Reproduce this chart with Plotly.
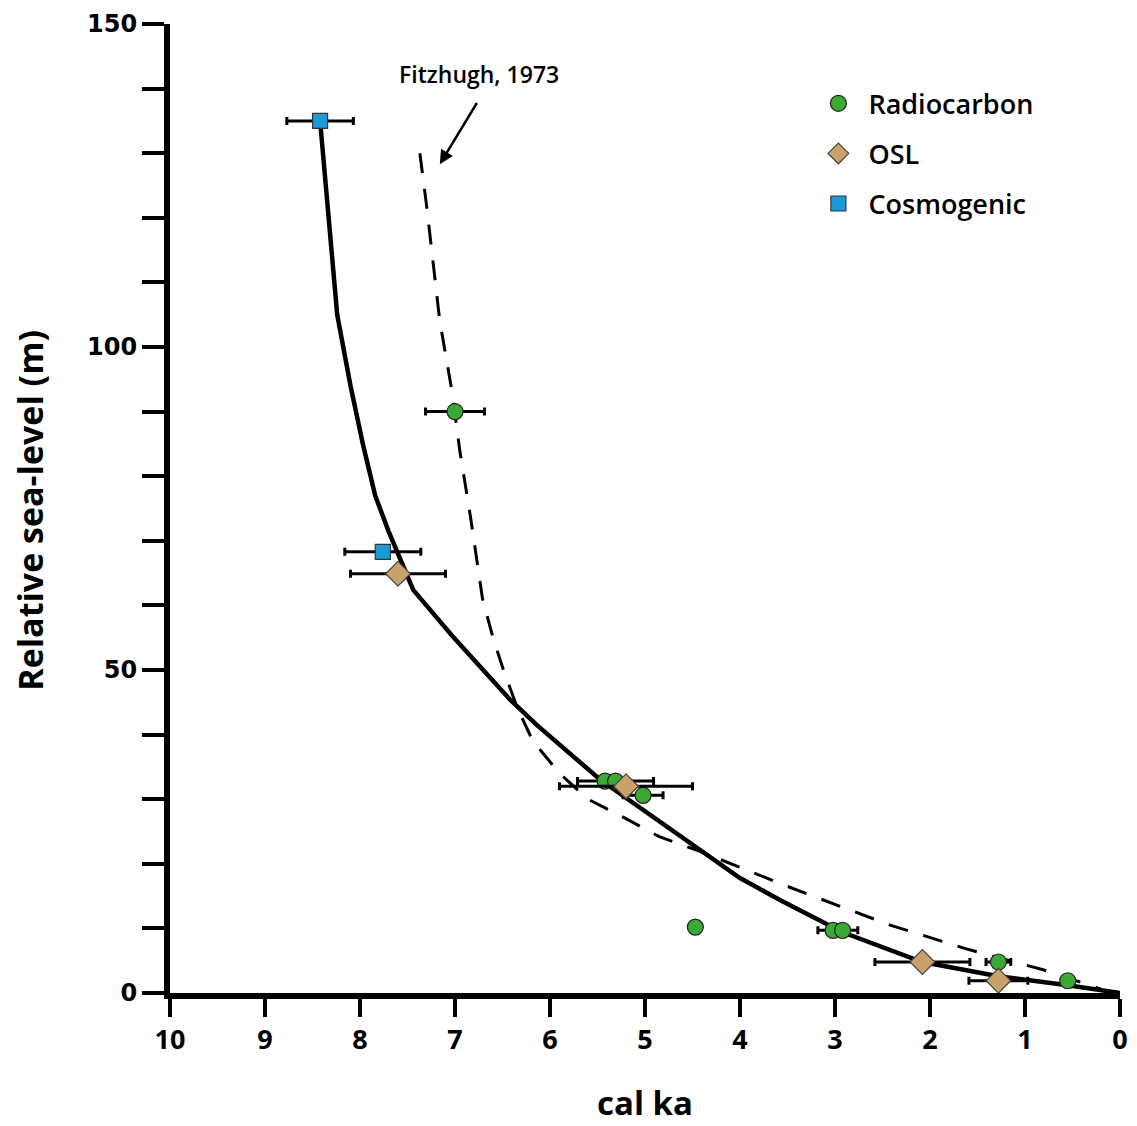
import plotly.graph_objects as go

# Radiocarbon samples (age cal ka, relative sea level m, age error)
rc_age = [7.0, 5.42, 5.31, 5.02, 4.47, 3.02, 2.92, 1.28, 0.55]
rc_rsl = [90, 32.8, 32.8, 30.6, 10.2, 9.7, 9.7, 4.8, 1.9]
rc_err = [0.31, 0, 0.4, 0.21, 0, 0.16, 0.16, 0.13, 0]

# OSL samples
osl_age = [7.6, 5.2, 2.08, 1.28]
osl_rsl = [64.9, 32.0, 4.8, 1.9]
osl_err = [0.5, 0.7, 0.5, 0.31]

# Cosmogenic samples
cos_age = [8.42, 7.76]
cos_rsl = [135, 68.3]
cos_err = [0.35, 0.4]

# sea-level curve (this study)
curve_age = [8.42, 8.32, 8.24, 8.1, 7.97, 7.84, 7.7, 7.44, 7.03, 6.42, 6.14, 5.47,
             4.6, 4.0, 3.58, 2.92, 2.08, 1.28, 0.55, 0.07, 0.0]
curve_rsl = [135, 118, 105, 94, 85, 77, 71.5, 62.4, 55.3, 45.4, 41.5, 33,
             24, 17.8, 14.4, 9.4, 4.8, 2.6, 1.2, 0.3, 0]

# Fitzhugh, 1973 curve
fitz_age = [7.37, 7.3, 7.16, 7.03, 6.95, 6.84, 6.71, 6.6, 6.49, 6.34, 6.18, 5.9,
            5.6, 5.2, 4.85, 4.4, 3.5, 2.42, 1.61, 0.81, 0.4, 0.2]
fitz_rsl = [130, 122, 104, 93, 84, 74, 61, 55, 50, 44, 39, 34,
            30, 27, 24.2, 21.8, 16.5, 10.5, 6.8, 3.6, 1.6, 0.6]

FONT = "Open Sans"

fig = go.Figure()

fig.add_trace(go.Scatter(x=fitz_age, y=fitz_rsl, mode="lines", showlegend=False,
                         line=dict(color="black", width=3, dash="20px,16px")))
fig.add_trace(go.Scatter(x=curve_age, y=curve_rsl, mode="lines", showlegend=False,
                         line=dict(color="black", width=4.5)))


def err(a):
    return dict(type="data", array=a, color="black", thickness=3, width=4)


fig.add_trace(go.Scatter(x=rc_age, y=rc_rsl, mode="markers", name="Radiocarbon",
                         legendgroup="a", error_x=err(rc_err),
                         marker=dict(symbol="circle", size=16, color="#3aaa35",
                                     line=dict(color="#222", width=1.2))))
fig.add_trace(go.Scatter(x=osl_age, y=osl_rsl, mode="markers", name="OSL",
                         legendgroup="b", error_x=err(osl_err),
                         marker=dict(symbol="diamond", size=19, color="#c9a16a",
                                     line=dict(color="#444", width=1.2))))
fig.add_trace(go.Scatter(x=cos_age, y=cos_rsl, mode="markers", name="Cosmogenic",
                         legendgroup="c", error_x=err(cos_err),
                         marker=dict(symbol="square", size=15, color="#1a9ad6",
                                     line=dict(color="#333", width=1.2))))

fig.add_annotation(x=6.75, y=142.3, text="Fitzhugh, 1973", showarrow=False,
                   font=dict(family=FONT, size=23, color="black", weight=600))
fig.add_annotation(x=7.16, y=128.3, ax=6.76, ay=138.0, axref="x", ayref="y",
                   text="", showarrow=True, arrowhead=2, arrowsize=1.1,
                   arrowwidth=2.5, arrowcolor="black")

# axis titles as annotations for exact placement
fig.add_annotation(xref="paper", yref="paper", x=0.5, y=-0.113, text="cal ka",
                   showarrow=False, xanchor="center", yanchor="middle",
                   font=dict(family=FONT, size=33, color="black", weight=700))
fig.add_annotation(xref="paper", yref="paper", x=-0.147, y=0.498,
                   text="Relative sea-level (m)", textangle=-90, showarrow=False,
                   xanchor="center", yanchor="middle",
                   font=dict(family=FONT, size=34, color="black", weight=700))

ytext = [str(v) if v % 50 == 0 else "" for v in range(0, 151, 10)]

fig.update_xaxes(range=[10, 0], tickvals=list(range(0, 11)), ticks="outside",
                 ticklen=18, tickwidth=4, tickcolor="black", showline=True,
                 linewidth=6, linecolor="black", showgrid=False, zeroline=False,
                 automargin=False,
                 tickfont=dict(family=FONT, size=27, color="black", weight=700))
fig.update_yaxes(range=[0, 150], tickvals=list(range(0, 151, 10)), ticktext=ytext,
                 ticks="outside", ticklen=22, tickwidth=4, tickcolor="black",
                 showline=True, linewidth=6, linecolor="black", showgrid=False,
                 zeroline=False, automargin=False,
                 tickfont=dict(family="DejaVu Sans", size=24, color="black", weight=700))

# page body adds an 8px offset, so the figure is sized to fit inside the window
fig.update_layout(width=1129, height=1118, plot_bgcolor="white", paper_bgcolor="white",
                  margin=dict(l=162, r=17, t=16, b=133),
                  legend=dict(x=0.672, y=0.943, xanchor="left", yanchor="top",
                              tracegroupgap=12, itemwidth=50, bgcolor="rgba(0,0,0,0)",
                              font=dict(family=FONT, size=27, color="black", weight=600)))

fig.write_html("out.html")
